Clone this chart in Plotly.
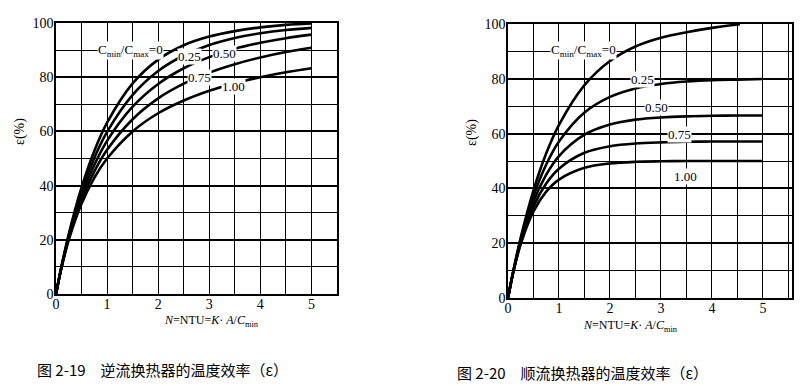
import plotly.graph_objects as go

# ---------------- data ----------------
N = [0, 0.1, 0.25, 0.5, 0.75, 1, 1.5, 2, 2.5, 3, 3.5, 4, 4.5, 5]

# Fig 2-19 counterflow, efficiency in %
cf_r000 = [0, 9.5, 22.1, 39.3, 52.8, 63.2, 77.7, 86.5, 91.8, 95.0, 97.0, 98.4, 99.3, 99.8]
cf_r025 = [0, 9.4, 21.6, 37.8, 50.2, 59.8, 73.5, 82.3, 88.0, 91.9, 94.5, 96.2, 97.4, 98.2]
cf_r050 = [0, 9.3, 21.0, 36.2, 47.6, 56.5, 69.1, 77.5, 83.3, 87.4, 90.5, 92.7, 94.4, 95.7]
cf_r075 = [0, 9.2, 20.5, 34.8, 45.2, 53.2, 64.5, 72.2, 77.6, 81.7, 84.8, 87.3, 89.3, 90.9]
cf_r100 = [0, 9.1, 20.0, 33.3, 42.9, 50.0, 60.0, 66.7, 71.4, 75.0, 77.8, 80.0, 81.8, 83.3]

# Fig 2-20 parallel flow, efficiency in %
N_pf0 = [0, 0.1, 0.25, 0.5, 0.75, 1, 1.5, 2, 2.5, 3, 3.5, 4, 4.55]
pf_r000 = [0, 9.5, 22.1, 39.3, 52.8, 63.2, 77.7, 86.5, 91.8, 95.0, 97.0, 98.6, 99.9]
pf_r025 = [0, 9.4, 21.5, 37.2, 48.7, 57.1, 67.7, 73.4, 76.5, 78.1, 79.0, 79.5, 79.7, 79.9]
pf_r050 = [0, 9.3, 20.8, 35.2, 45.0, 51.8, 59.6, 63.3, 65.1, 65.9, 66.3, 66.5, 66.6, 66.6]
pf_r075 = [0, 9.2, 20.3, 33.3, 41.8, 47.2, 53.0, 55.4, 56.4, 56.8, 57.0, 57.1, 57.1, 57.1]
pf_r100 = [0, 9.1, 19.7, 31.6, 38.8, 43.2, 47.5, 49.1, 49.7, 49.9, 50.0, 50.0, 50.0, 50.0]

x_ticks = [0, 1, 2, 3, 4, 5]
y_ticks = [0, 20, 40, 60, 80, 100]

left_labels = [("C<sub>min</sub>/C<sub>max</sub>=0", 0.80, 90.0),
               ("0.25", 2.37, 87.5),
               ("0.50", 3.06, 88.6),
               ("0.75", 2.57, 80.0),
               ("1.00", 3.22, 76.4)]
right_labels = [("C<sub>min</sub>/C<sub>max</sub>=0", 0.82, 90.5),
                ("0.25", 2.40, 79.6),
                ("0.50", 2.66, 69.7),
                ("0.75", 3.12, 59.5),
                ("1.00", 3.24, 44.5)]

caption_left = "图 2-19　逆流换热器的温度效率（ε）"
caption_right = "图 2-20　顺流换热器的温度效率（ε）"

# ---------------- figure ----------------
OFF = 8          # page body margin
W, H = 812 - OFF, 386 - OFF

def px(v):  # reference x pixel -> paper fraction
    return (v - OFF) / W

def py(v):  # reference y pixel -> paper fraction
    return 1 - (v - OFF) / H

fig = go.Figure()

line_style = dict(color="black", width=2.6, shape="spline", smoothing=0.9)
for ys in [cf_r000, cf_r025, cf_r050, cf_r075, cf_r100]:
    fig.add_trace(go.Scatter(x=N, y=ys, mode="lines", line=line_style,
                             xaxis="x", yaxis="y", showlegend=False, hoverinfo="skip"))
fig.add_trace(go.Scatter(x=N_pf0, y=pf_r000, mode="lines", line=line_style,
                         xaxis="x2", yaxis="y2", showlegend=False, hoverinfo="skip"))
for ys in [pf_r025, pf_r050, pf_r075, pf_r100]:
    fig.add_trace(go.Scatter(x=N, y=ys, mode="lines", line=line_style,
                             xaxis="x2", yaxis="y2", showlegend=False, hoverinfo="skip"))

tick_font = dict(family="Liberation Serif", size=14, color="black")

def xax(domain, rng, anchor):
    return dict(domain=domain, range=rng, anchor=anchor, automargin=False,
                tickvals=x_ticks, ticktext=[str(v) for v in x_ticks],
                ticklabelstandoff=-4,
                showgrid=True, gridcolor="black", gridwidth=1.4,
                minor=dict(dtick=0.5, tick0=0, showgrid=True, gridcolor="black", gridwidth=1.1),
                showline=True, linecolor="black", linewidth=1.6, mirror=True,
                ticks="", zeroline=False, tickfont=tick_font, fixedrange=True)

def yax(domain, anchor):
    return dict(domain=domain, range=[0, 100], anchor=anchor, automargin=False,
                tickvals=y_ticks, ticktext=[str(v) for v in y_ticks],
                ticklabelstandoff=-2,
                showgrid=True, gridcolor="black", gridwidth=1.8,
                minor=dict(dtick=10, tick0=0, showgrid=True, gridcolor="black", gridwidth=1.1),
                showline=True, linecolor="black", linewidth=1.6, mirror=True,
                ticks="", zeroline=False, tickfont=tick_font, fixedrange=True)

fig.update_layout(
    width=W, height=H,
    margin=dict(l=0, r=0, t=0, b=0, autoexpand=False),
    paper_bgcolor="white", plot_bgcolor="white",
    xaxis=xax([px(56), px(337)], [0, 5.5], "y"),
    yaxis=yax([py(294), py(23)], "x"),
    xaxis2=xax([px(508), px(792)], [0, 5.57], "y2"),
    yaxis2=yax([py(298), py(24)], "x2"),
)

ann = []
lab_font = dict(family="Liberation Serif", size=13, color="black")
for txt, xv, yv in left_labels:
    ann.append(dict(text=txt, x=xv, y=yv, xref="x", yref="y", xanchor="left", yanchor="middle",
                    showarrow=False, font=lab_font, bgcolor="white", borderpad=0))
for txt, xv, yv in right_labels:
    ann.append(dict(text=txt, x=xv, y=yv, xref="x2", yref="y2", xanchor="left", yanchor="middle",
                    showarrow=False, font=lab_font, bgcolor="white", borderpad=0))

# axis titles
title_font = dict(family="Liberation Serif", size=14, color="black")
ann.append(dict(text="ε(%)", x=px(20), y=py(132), xref="paper", yref="paper",
                xanchor="center", yanchor="middle",
                textangle=-90, showarrow=False, font=title_font))
ann.append(dict(text="ε(%)", x=px(472), y=py(133), xref="paper", yref="paper",
                xanchor="center", yanchor="middle",
                textangle=-90, showarrow=False, font=title_font))
xt = "<i>N</i>=NTU=<i>K</i>· <i>A</i>/<i>C</i><sub>min</sub>"
ann.append(dict(text=xt, x=px(211), y=py(321), xref="paper", yref="paper",
                xanchor="center", yanchor="middle",
                showarrow=False, font=dict(family="Liberation Serif", size=12, color="black")))
ann.append(dict(text=xt, x=px(630), y=py(326), xref="paper", yref="paper",
                xanchor="center", yanchor="middle",
                showarrow=False, font=dict(family="Liberation Serif", size=12, color="black")))

# captions
cap_font = dict(family="Noto Sans CJK SC", size=15, color="black")
ann.append(dict(text=caption_left, x=px(35), y=py(369), xref="paper", yref="paper",
                xanchor="left", yanchor="middle", showarrow=False, font=cap_font))
ann.append(dict(text=caption_right, x=px(455), y=py(372), xref="paper", yref="paper",
                xanchor="left", yanchor="middle", showarrow=False, font=cap_font))

fig.update_layout(annotations=ann)
fig.write_html("out.html")
